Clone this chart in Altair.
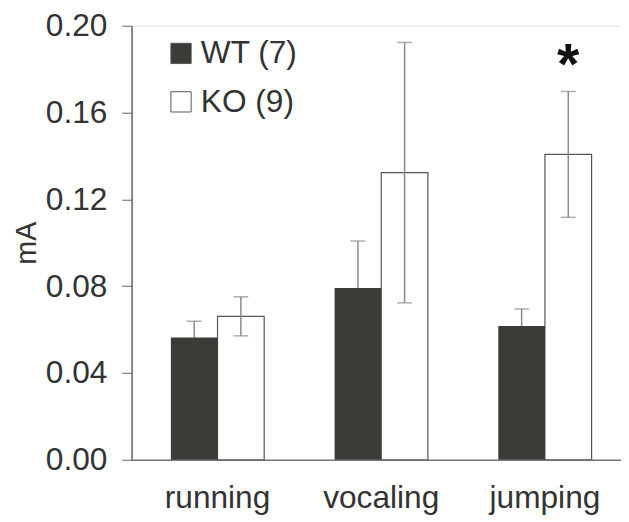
import altair as alt
import pandas as pd

categories = ["running", "vocaling", "jumping"]
groups = ["WT (7)", "KO (9)"]
wt_mean = [0.0564, 0.0791, 0.0616]
wt_err = [0.0074, 0.0217, 0.0079]
ko_mean = [0.0661, 0.1323, 0.1407]
ko_err = [0.0090, 0.0600, 0.0290]
significance = ["", "", "*"]

rows = []
for i, c in enumerate(categories):
    rows.append({"cat": c, "grp": groups[0], "mean": wt_mean[i],
                 "lo": wt_mean[i] - wt_err[i], "hi": wt_mean[i] + wt_err[i], "sig": ""})
    rows.append({"cat": c, "grp": groups[1], "mean": ko_mean[i],
                 "lo": ko_mean[i] - ko_err[i], "hi": ko_mean[i] + ko_err[i], "sig": significance[i]})
df = pd.DataFrame(rows)

FONT = "Liberation Sans"
FS = 32

x = alt.X("cat:N", sort=categories, title=None,
          scale=alt.Scale(range=[0, 505], paddingInner=0.43, paddingOuter=0.24),
          axis=alt.Axis(labelAngle=0, ticks=False, labelFontSize=FS, labelFont=FONT,
                        labelColor="#333333", labelPadding=23, domainColor="#777777",
                        domainWidth=1.5))
xoff = alt.XOffset("grp:N", sort=groups, scale=alt.Scale(domain=groups, paddingInner=0, paddingOuter=0))
y = alt.Y("mean:Q", title="mA",
          scale=alt.Scale(domain=[0, 0.2], nice=False),
          axis=alt.Axis(values=[0, 0.04, 0.08, 0.12, 0.16, 0.2], format=".2f", grid=False,
                        labelFontSize=FS, labelFont=FONT, labelColor="#333333", labelPadding=15,
                        tickSize=10, tickColor="#666666", domainColor="#666666", domainWidth=1.5,
                        titleFontSize=29, titleFont=FONT, titleFontWeight="normal",
                        titleColor="#333333", titlePadding=4))

color = alt.Color("grp:N", sort=groups,
                  scale=alt.Scale(domain=groups, range=["#3b3b37", "#ffffff"]),
                  legend=alt.Legend(title=None, orient="none", legendX=34, legendY=12,
                                    symbolType="square", symbolSize=420,
                                    symbolStrokeColor="#555555", symbolStrokeWidth=1,
                                    labelFontSize=FS, labelFont=FONT, labelColor="#333333",
                                    labelOffset=4, rowPadding=17, symbolOpacity=1))

base = alt.Chart(df).encode(x=x, xOffset=xoff)

ko_bars = base.transform_filter(alt.datum.grp == groups[1]).mark_bar(
    stroke="#555555", strokeWidth=1.2).encode(y=y, fill=color)
err_rule = base.mark_rule(color="#8a8a8a", strokeWidth=1.5).encode(y="lo:Q", y2="hi:Q")
err_hi = base.mark_tick(color="#8a8a8a", thickness=1.5, size=15).encode(y="hi:Q")
err_lo = base.mark_tick(color="#8a8a8a", thickness=1.5, size=15).encode(y="lo:Q")
wt_bars = base.transform_filter(alt.datum.grp == groups[0]).mark_bar(
    stroke="#3b3b37", strokeWidth=0).encode(y=y, fill=color)
sig = base.mark_text(fontSize=58, fontWeight="bold", font=FONT, color="#111111",
                     baseline="alphabetic", dy=-8).encode(y="hi:Q", text="sig:N")

chart = alt.layer(ko_bars, err_rule, err_hi, err_lo, wt_bars, sig).properties(
    width=495, height=439,
    padding={"left": 125, "top": 15, "right": 0, "bottom": 60},
    autosize=alt.AutoSizeParams(type="none"),
).configure_view(stroke=None).configure(background="white")

chart.save("out.html", embed_options={"renderer": "svg", "actions": False})
